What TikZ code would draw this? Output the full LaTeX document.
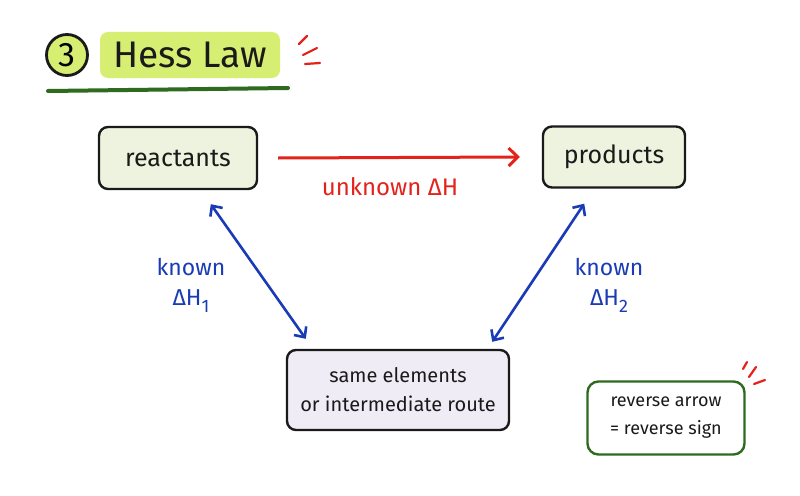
\documentclass[tikz,border=0pt]{standalone}
\usepackage{fontspec}
\setmainfont{Fira Sans}
\usetikzlibrary{arrows.meta}
\definecolor{ink}{HTML}{1A1A1A}
\definecolor{redink}{HTML}{E3231B}
\definecolor{blueink}{HTML}{1A3BB5}
\definecolor{greenink}{HTML}{2E6B1F}
\definecolor{lime}{HTML}{D6EE72}
\definecolor{boxgreen}{HTML}{EEF3DF}
\definecolor{boxlav}{HTML}{EFECF6}
\newcommand{\subn}[1]{\raisebox{-0.3em}{\fontsize{18}{18}\selectfont #1}}
\tikzset{
  termbox/.style={draw=ink, line width=2.4pt, rounded corners=9pt, fill=boxgreen, font=\fontsize{25}{28}\selectfont, text=ink, align=center},
  redarrow/.style={draw=redink, line width=3pt, -{Straight Barb[length=9pt,width=18pt,line width=3pt]}},
  bluearrow/.style={draw=blueink, line width=2.6pt, {Straight Barb[length=8pt,width=15pt,line width=2.6pt]}-{Straight Barb[length=8pt,width=15pt,line width=2.6pt]}},
  bluelabel/.style={text=blueink, font=\fontsize{23}{30}\selectfont, align=center},
  ticks/.style={draw=redink, line width=2.2pt, line cap=round}
}
\begin{document}
\begin{tikzpicture}[x=1pt,y=-1pt]
\useasboundingbox[fill=white] (0,0) rectangle (800,495);
% title
\node[draw=ink, line width=2.8pt, circle, fill=lime, minimum size=41pt, inner sep=0pt, font=\fontsize{34}{36}\selectfont] (num) at (67,55) {3};
\node[fill=lime, rounded corners=8pt, minimum width=180pt, minimum height=46pt, font=\fontsize{37}{40}\selectfont, text=ink] (title) at (190,55) {Hess Law};
\draw[greenink, line width=4pt, line cap=round] (48,91) -- (288,88);
\draw[ticks] (299,44) -- (307,36);
\draw[ticks] (303,55) -- (317,48);
\draw[ticks] (305,64) -- (320,63);
% boxes
\node[termbox, minimum width=158pt, minimum height=62pt] (react) at (178,158) {reactants};
\node[termbox, minimum width=142pt, minimum height=61pt] (prod) at (614,157) {products};
\node[termbox, fill=boxlav, minimum width=222pt, minimum height=80pt, font=\fontsize{20}{29}\selectfont] (route) at (398,390) {same elements\\or intermediate route};
% arrows
\draw[redarrow] ([xshift=20pt]react.east) coordinate (ra) -- ([xshift=-22pt]prod.west) coordinate (rb);
\node[text=redink, font=\fontsize{24}{26}\selectfont] (unk) at (390,187) {unknown ΔH};
\draw[bluearrow] ([shift={(113,14)}]react.south west) coordinate (b1) -- ([shift={(20,-10)}]route.north west) coordinate (b2);
\draw[bluearrow] ([shift={(-102,15)}]prod.south east) coordinate (c1) -- ([shift={(-18,-7)}]route.north east) coordinate (c2);
\node[bluelabel] (k1) at (191,285) {known\\ΔH\subn{1}};
\node[bluelabel] (k2) at (609,285) {known\\ΔH\subn{2}};
% note
\node[draw=greenink, line width=2.4pt, rounded corners=11pt, fill=white, minimum width=157pt, minimum height=73pt, align=center, font=\fontsize{18}{28}\selectfont, text=ink] (note) at (666,418) {reverse arrow\\= reverse sign};
\draw[ticks] (743,369) -- (747,362);
\draw[ticks] (749,377) -- (756,367);
\draw[ticks] (754,384) -- (765,380);
\end{tikzpicture}
\end{document}
